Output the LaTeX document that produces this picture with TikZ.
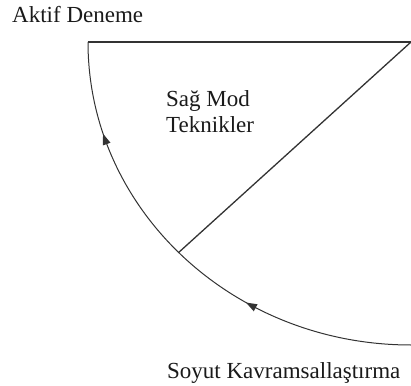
\documentclass[tikz,border=0pt]{standalone}
\usepackage{fontspec}
\setmainfont{Liberation Serif}
\usetikzlibrary{arrows.meta, decorations.markings, calc}
\definecolor{cline}{HTML}{333333}
\definecolor{ctext}{HTML}{1A1A1A}
\newcommand{\headtip}{\fill[cline] (5pt,0) -- (-6pt,4pt) -- (-6pt,-4pt) -- cycle;}
\tikzset{
  every picture/.style={x=1pt, y=1pt},
  tag/.style={font=\fontsize{23}{26}\selectfont, text=ctext, inner sep=0pt, align=left},
  edge/.style={draw=cline, line width=1.3pt},
  cycle/.style={draw=cline, line width=1pt, postaction={decorate},
    decoration={markings,
      mark=at position 0.34 with {\headtip},
      mark=at position 0.80 with {\headtip}}},
}

\begin{document}
\begin{tikzpicture}
  \useasboundingbox (0,0) rectangle (411,385);
  % ---------- corners of the quarter
  \coordinate (O) at (411,343);
  \coordinate (A) at (88,343);
  \coordinate (B) at (411,40);
  \coordinate (M) at ($(O)+(224:323 and 303)$);
  % ---------- outline
  \draw[edge] (A) -- (O);
  \draw[edge] (O) -- (M);
  \draw[cycle] (B) arc[start angle=270, end angle=180, x radius=323, y radius=303];
  % ---------- labels
  \node[tag, anchor=base west] (act) at (12,362) {Aktif Deneme};
  \node[tag, anchor=base west] (right) at (166,252) {Sağ Mod\\Teknikler};
  \node[tag, anchor=base west] (abs) at (167,7) {Soyut Kavramsallaştırma};
\end{tikzpicture}
\end{document}
